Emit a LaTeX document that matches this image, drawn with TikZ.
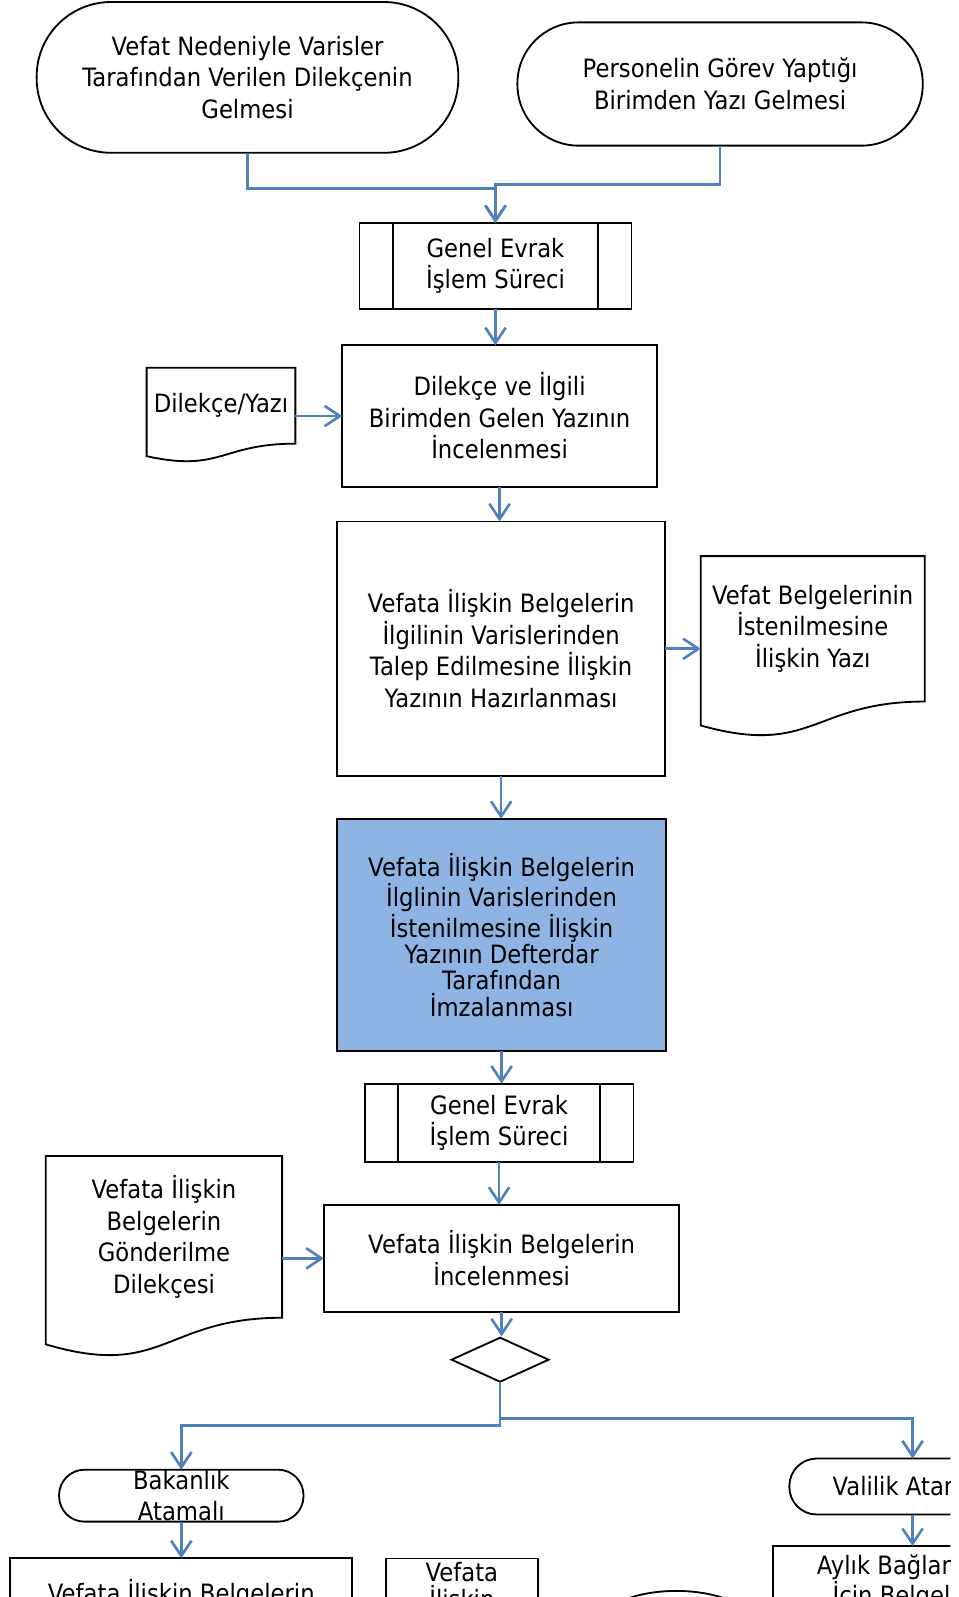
\documentclass[tikz,border=0pt]{standalone}
\usepackage{fontspec}
\setmainfont{DejaVu Sans}[FakeStretch=0.9]
\usepackage{tikz}
\usetikzlibrary{arrows.meta, positioning, calc, shapes.geometric}

\definecolor{akis}{HTML}{4F81BD}
\definecolor{imzamavi}{HTML}{8EB4E3}

% document symbol: node outline with a wavy bottom
\newcommand{\belgeciz}[1]{%
  \draw[kenar] (#1.north west) -- (#1.north east) -- (#1.south east)
    .. controls (#1.south) and ($(#1.south)!-0.381!(#1.north)$)
    .. ($(#1.south west)!-0.1646!(#1.north west)$) -- cycle;}

\begin{document}
\begin{tikzpicture}[
  x=0.5pt, y=-0.5pt,
  kenar/.style={draw=black, line width=0.9pt},
  yazi/.style={font=\fontsize{12.4}{15.5}\selectfont, align=center},
  box/.style={kenar, yazi, rectangle, inner sep=2pt, outer sep=0pt},
  terminal/.style={box, rounded corners=#1},
  belge/.style={yazi, inner xsep=0pt, inner ysep=1pt, outer sep=0pt},
  arrow/.style={draw=akis, line width=1.3pt, -{Straight Barb[length=7.5pt,width=10pt]}}
]
\useasboundingbox (0,0) rectangle (941,1568);
\clip (0,0) rectangle (933,1568);

% start events
\node[terminal=36.5pt, minimum width=207pt, minimum height=74pt] (varis) at (243,76)
  {Vefat Nedeniyle Varisler\\Tarafından Verilen Dilekçenin\\Gelmesi};
\node[terminal=30pt, minimum width=199pt, minimum height=60.5pt] (birim) at (707,82.5)
  {Personelin Görev Yaptığı\\Birimden Yazı Gelmesi};

\node[box, minimum width=133.5pt, minimum height=42pt] (genel1) at (486.5,261)
  {Genel Evrak\\İşlem Süreci};
\draw[kenar] ($(genel1.north west)+(33,0)$) -- ($(genel1.south west)+(33,0)$);
\draw[kenar] ($(genel1.north east)+(-33,0)$) -- ($(genel1.south east)+(-33,0)$);

\node[box, minimum width=154.5pt, minimum height=69.5pt] (dilekce) at (490.5,408.5)
  {Dilekçe ve İlgili\\Birimden Gelen Yazının\\İncelenmesi};
\node[belge, minimum width=73pt, minimum height=37.3pt] (dilyazi) at (217,398.3)
  {Dilekçe/Yazı};
\belgeciz{dilyazi}

\node[box, minimum width=161pt, minimum height=125pt] (hazirla) at (492,637)
  {Vefata İlişkin Belgelerin\\İlgilinin Varislerinden\\Talep Edilmesine İlişkin\\Yazının Hazırlanması};
\node[belge, minimum width=110pt, minimum height=71.4pt] (vefatyazi) at (798,617.4)
  {Vefat Belgelerinin\\İstenilmesine\\İlişkin Yazı};
\belgeciz{vefatyazi}

\node[box, fill=imzamavi, font=\fontsize{12.4}{13}\selectfont,
      minimum width=161.5pt, minimum height=114pt] (imza) at (492.5,918)
  {Vefata İlişkin Belgelerin\\İlglinin Varislerinden\\İstenilmesine İlişkin\\Yazının Defterdar\\Tarafından\\İmzalanması};

\node[box, minimum width=132pt, minimum height=38.5pt] (genel2) at (490,1102.5)
  {Genel Evrak\\İşlem Süreci};
\draw[kenar] ($(genel2.north west)+(33,0)$) -- ($(genel2.south west)+(33,0)$);
\draw[kenar] ($(genel2.north east)+(-33,0)$) -- ($(genel2.south east)+(-33,0)$);

\node[box, minimum width=174.5pt, minimum height=52.5pt] (incele) at (492.5,1235.5)
  {Vefata İlişkin Belgelerin\\İncelenmesi};
\node[belge, minimum width=116pt, minimum height=79.4pt] (gonder) at (161,1214.4)
  {Vefata İlişkin\\Belgelerin\\Gönderilme\\Dilekçesi};
\belgeciz{gonder}

\node[kenar, diamond, minimum width=48pt, minimum height=22pt, inner sep=0pt] (karar) at (491,1335) {};

% branches
\node[terminal=12.5pt, minimum width=120pt, minimum height=25.5pt, inner ysep=0pt] (bakanlik) at (178,1468.5)
  {Bakanlık\\Atamalı};
\node[terminal=13.5pt, minimum width=121pt, minimum height=27.5pt] (valilik) at (896,1459.5)
  {Valilik Atamalı};

\node[box, minimum width=168pt, minimum height=35pt] (belgeA) at (178,1565)
  {Vefata İlişkin Belgelerin};
\node[box, font=\fontsize{12.4}{13}\selectfont, minimum width=74.5pt, minimum height=27pt] (belgeB) at (453.5,1559)
  {Vefata\\İlişkin};
\node[kenar, ellipse, minimum width=82pt, minimum height=40pt, inner sep=0pt] (oval) at (664,1602) {};
\node[box, font=\fontsize{12.4}{12.5}\selectfont, minimum width=138pt, minimum height=35.5pt] (aylik) at (897,1553.5)
  {Aylık Bağlanması\\İçin Belgelerin};

% connectors
\draw[arrow] (varis.south) -- ++(0,35) -| (genel1.north);
\draw[arrow] (birim.south) -- ++(0,38) -| (genel1.north);
\draw[arrow] (genel1.south) -- (genel1.south |- dilekce.north);
\draw[arrow] (dilyazi.east |- dilekce.west) -- (dilekce.west);
\draw[arrow] (dilekce.south) -- (dilekce.south |- hazirla.north);
\draw[arrow] (hazirla.east) -- (hazirla.east -| vefatyazi.west);
\draw[arrow] (hazirla.south) -- (hazirla.south |- imza.north);
\draw[arrow] (imza.south) -- (imza.south |- genel2.north);
\draw[arrow] (genel2.south) -- (genel2.south |- incele.north);
\draw[arrow] (gonder.east |- incele.west) -- (incele.west);
\draw[arrow] (incele.south) -- (incele.south |- karar.north);
\draw[arrow] (karar.south) -- ++(0,42) -| (bakanlik.north);
\draw[arrow] (karar.south) -- ++(0,35) -| (valilik.north);
\draw[arrow] (bakanlik.south) -- (bakanlik.south |- belgeA.north);
\draw[arrow] (valilik.south) -- (valilik.south |- aylik.north);

\end{tikzpicture}
\end{document}
